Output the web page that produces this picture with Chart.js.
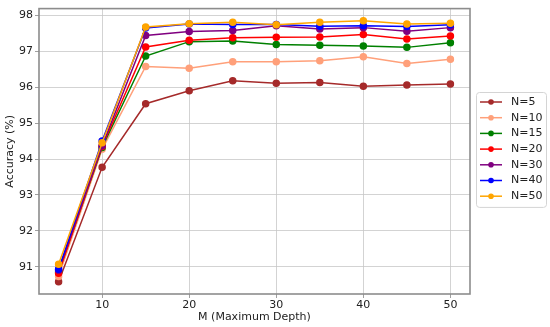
<!DOCTYPE html>
<html>
<head>
<meta charset="utf-8">
<script src="https://cdn.jsdelivr.net/npm/chart.js@4/dist/chart.umd.min.js"></script>
<style>
  html, body { margin: 0; padding: 0; background: #fff; }
  #wrap { width: 550px; height: 327px; }
</style>
</head>
<body>
<div id="wrap"><canvas id="accChart" width="550" height="327"></canvas></div>
<script>
// depth values on the x axis
const mValues = [5, 10, 15, 20, 25, 30, 35, 40, 45, 50]
const xTicks = [10, 20, 30, 40, 50]
const yTicks = [91, 92, 93, 94, 95, 96, 97, 98]

// accuracy per N
const n5  = [90.58, 93.77, 95.54, 95.90, 96.18, 96.11, 96.13, 96.03, 96.06, 96.09]
const n10 = [90.73, 94.27, 96.58, 96.53, 96.71, 96.71, 96.74, 96.85, 96.66, 96.78]
const n15 = [90.85, 94.32, 96.87, 97.27, 97.29, 97.19, 97.17, 97.15, 97.11, 97.24]
const n20 = [90.82, 94.35, 97.12, 97.31, 97.38, 97.39, 97.40, 97.47, 97.34, 97.43]
const n30 = [90.90, 94.37, 97.44, 97.55, 97.58, 97.71, 97.62, 97.66, 97.56, 97.66]
const n40 = [90.93, 94.50, 97.65, 97.76, 97.75, 97.75, 97.70, 97.71, 97.69, 97.74]
const n50 = [91.07, 94.45, 97.68, 97.77, 97.81, 97.74, 97.81, 97.85, 97.76, 97.78]

const seriesLabels = ['N=5', 'N=10', 'N=15', 'N=20', 'N=30', 'N=40', 'N=50']
const seriesColors = ['#a52a2a', '#ffa07a', '#008000', '#ff0000', '#800080', '#0000ff', '#ffa500']
const seriesValues = [n5, n10, n15, n20, n30, n40, n50]

const FONT = 'DejaVu Sans'
const TEXT = '#222'

// matplotlib style frame + legend box
const framePlugin = {
  id: 'frame',
  afterDraw(chart) {
    const { ctx, chartArea: a } = chart
    ctx.save()
    ctx.strokeStyle = '#8c8c8c'
    ctx.lineWidth = 1.6
    ctx.strokeRect(a.left, a.top, a.right - a.left, a.bottom - a.top)

    // legend
    const ds = chart.data.datasets
    const bx = 476, by = 92, bw = 70, rowH = 15.7
    const bh = rowH * ds.length + 5
    ctx.fillStyle = 'rgba(255,255,255,0.85)'
    ctx.strokeStyle = '#d4d4d4'
    ctx.lineWidth = 1
    ctx.beginPath()
    ctx.roundRect(bx + 0.5, by + 0.5, bw, bh, 3)
    ctx.fill()
    ctx.stroke()
    ctx.font = '11px ' + FONT
    ctx.textBaseline = 'middle'
    ds.forEach((d, i) => {
      const y = by + 10 + i * rowH
      ctx.strokeStyle = d.borderColor
      ctx.lineWidth = 1.5
      ctx.beginPath()
      ctx.moveTo(480, y)
      ctx.lineTo(502, y)
      ctx.stroke()
      ctx.fillStyle = d.borderColor
      ctx.beginPath()
      ctx.arc(491, y, 2.8, 0, Math.PI * 2)
      ctx.fill()
      ctx.fillStyle = TEXT
      ctx.fillText(d.label, 511, y)
    })
    ctx.restore()
  }
}

const chart = new Chart(document.getElementById('accChart'), {
  type: 'line',
  data: {
    datasets: seriesLabels.map((lbl, i) => ({
      label: lbl,
      data: mValues.map((m, j) => ({ x: m, y: seriesValues[i][j] })),
      borderColor: seriesColors[i],
      backgroundColor: seriesColors[i],
      borderWidth: 1.5,
      pointRadius: 3,
      pointHoverRadius: 3,
      order: seriesLabels.length - i,
    }))
  },
  options: {
    responsive: false,
    animation: false,
    layout: { padding: { top: 6, right: 80, left: 0, bottom: 0 } },
    plugins: {
      legend: { display: false },
      tooltip: { enabled: false }
    },
    scales: {
      x: {
        type: 'linear',
        min: 2.75,
        max: 52.25,
        afterBuildTicks: s => { s.ticks = xTicks.map(v => ({ value: v })) },
        afterFit: s => { s.height = 33 },
        grid: { color: '#c8c8c8', lineWidth: 0.8, tickColor: '#888', tickLength: 4 },
        border: { display: false },
        ticks: { color: TEXT, font: { family: FONT, size: 11 }, padding: 1, maxRotation: 0 },
        title: { display: true, text: 'M (Maximum Depth)', color: TEXT, font: { family: FONT, size: 11 }, padding: { top: 0, bottom: 3 } }
      },
      y: {
        min: 90.24,
        max: 98.19,
        afterBuildTicks: s => { s.ticks = yTicks.map(v => ({ value: v })) },
        afterFit: s => { s.width = 39 },
        grid: { color: '#c8c8c8', lineWidth: 0.8, tickColor: '#888', tickLength: 4 },
        border: { display: false },
        ticks: { color: TEXT, font: { family: FONT, size: 11 }, padding: 2 },
        title: { display: true, text: 'Accuracy (%)', color: TEXT, font: { family: FONT, size: 11 }, padding: { top: 4, bottom: 0 } }
      }
    }
  },
  plugins: [framePlugin]
})
</script>
</body>
</html>
